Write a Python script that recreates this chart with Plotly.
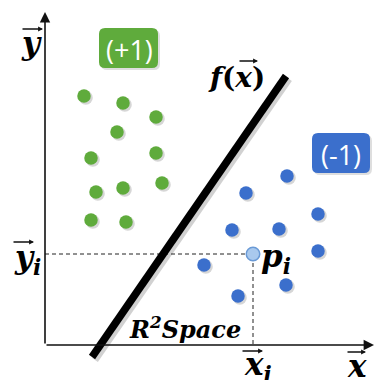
import plotly.graph_objects as go

# ---- data (units: origin at axes crossing) ----
green_x = [3.9, 7.8, 11.1, 7.2, 4.6, 11.1, 5.1, 7.8, 11.7, 4.6, 8.1]
green_y = [24.9, 24.2, 22.8, 21.3, 18.7, 19.2, 15.3, 15.7, 16.2, 12.5, 12.3]
blue_x = [24.2, 20.1, 27.3, 18.7, 23.4, 27.3, 15.9, 24.1, 19.3]
blue_y = [16.9, 15.2, 13.1, 11.5, 11.6, 9.4, 8.0, 6.0, 4.9]
pi_x = [20.8]
pi_y = [9.1]
line_x = [4.7, 24.1]
line_y = [-1.2, 26.9]
x_max = 32.9
y_max = 33.3

GREEN = "#5fab3c"
BLUE = "#3b6fcc"
SERIF = "DejaVu Serif"


def P(px, py):
    """page pixel -> data units (for label placement)"""
    return (px - 45) / 10.0, (345 - py) / 10.0


fig = go.Figure()

# shadows
sh = 0.18
fig.add_trace(go.Scatter(x=[v + sh for v in green_x + blue_x], y=[v - sh for v in green_y + blue_y],
                         mode="markers", marker=dict(size=14, color="rgba(0,0,0,0.16)"),
                         hoverinfo="skip", showlegend=False))
fig.add_trace(go.Scatter(x=[v + 0.3 for v in line_x], y=[v - 0.3 for v in line_y], mode="lines",
                         line=dict(color="rgba(0,0,0,0.18)", width=7), hoverinfo="skip", showlegend=False))

# dashed guides
fig.add_trace(go.Scatter(x=[0, pi_x[0], pi_x[0]], y=[pi_y[0], pi_y[0], 0], mode="lines",
                         line=dict(color="#222", width=1, dash="4px,3px"), showlegend=False))

# decision line
fig.add_trace(go.Scatter(x=line_x, y=line_y, mode="lines",
                         line=dict(color="black", width=7.5), showlegend=False))

fig.add_trace(go.Scatter(x=green_x, y=green_y, mode="markers",
                         marker=dict(size=13.5, color=GREEN), showlegend=False))
fig.add_trace(go.Scatter(x=blue_x, y=blue_y, mode="markers",
                         marker=dict(size=13.5, color=BLUE), showlegend=False))
fig.add_trace(go.Scatter(x=pi_x, y=pi_y, mode="markers",
                         marker=dict(size=13.5, color="#a9c9ee", line=dict(color="#6a9ad6", width=1.5)),
                         showlegend=False))


def rrect(x0, y0, x1, y1, r):
    return (f"M{x0+r},{y0} L{x1-r},{y0} Q{x1},{y0} {x1},{y0+r} L{x1},{y1-r} Q{x1},{y1} {x1-r},{y1} "
            f"L{x0+r},{y1} Q{x0},{y1} {x0},{y1-r} L{x0},{y0+r} Q{x0},{y0} {x0+r},{y0} Z")


shapes = [
    dict(type="path", path=rrect(5.6, 27.5, 11.5, 31.5, 0.6), xref="x", yref="y",
         fillcolor="rgba(0,0,0,0.13)", line=dict(width=0)),
    dict(type="path", path=rrect(5.4, 27.7, 11.3, 31.7, 0.6), xref="x", yref="y",
         fillcolor=GREEN, line=dict(width=0)),
    dict(type="path", path=rrect(26.9, 17.0, 32.7, 21.0, 0.6), xref="x", yref="y",
         fillcolor="rgba(0,0,0,0.13)", line=dict(width=0)),
    dict(type="path", path=rrect(26.7, 17.2, 32.5, 21.2, 0.6), xref="x", yref="y",
         fillcolor=BLUE, line=dict(width=0)),
]


def vec_arrow(p0, p1):
    (x0, y0), (x1, y1) = P(*p0), P(*p1)
    return dict(x=x1, y=y1, ax=x0, ay=y0, xref="x", yref="y", axref="x", ayref="y", text="",
                showarrow=True, arrowhead=2, arrowsize=0.7, arrowwidth=1.4, arrowcolor="#111")


def label(px, py, text, size, **kw):
    x, y = P(px, py)
    return dict(x=x, y=y, text=text, showarrow=False,
                font=dict(family=kw.pop("family", SERIF), size=size, color=kw.pop("color", "black")), **kw)


annotations = [
    # axes arrows
    dict(x=0, y=y_max, ax=0, ay=0, xref="x", yref="y", axref="x", ayref="y", text="",
         showarrow=True, arrowhead=2, arrowsize=1.3, arrowwidth=1.6, arrowcolor="#111"),
    dict(x=x_max, y=0, ax=0, ay=0, xref="x", yref="y", axref="x", ayref="y", text="",
         showarrow=True, arrowhead=2, arrowsize=1.3, arrowwidth=1.6, arrowcolor="#111"),
    label(129, 49, "(+1)", 27, family="Open Sans", color="white"),
    label(341, 154, "(-1)", 27, family="Open Sans", color="white"),
    # f(x)
    label(236, 77, "<b><i>f</i>(<i>x</i>)</b>", 28),
    vec_arrow((238, 61), (258, 61)),
    # y
    label(31, 43, "<b><i>y</i></b>", 31),
    vec_arrow((21, 29), (43, 29)),
    # y_i
    label(27, 259, "<b><i>y<sub>i</sub></i></b>", 31),
    vec_arrow((12, 242), (34, 242)),
    # x_i
    label(258, 366, "<b><i>x<sub>i</sub></i></b>", 31),
    vec_arrow((241, 351), (263, 351)),
    # x
    label(357, 366, "<b><i>x</i></b>", 31),
    vec_arrow((346, 352), (366, 352)),
    # p_i
    label(259, 258, "<b><i>p<sub>i</sub></i></b>", 31, xanchor="left"),
    # R^2 Space
    label(185, 328, "<b><i>R<sup>2</sup>Space</i></b>", 24),
]

fig.update_layout(
    width=374, height=380,
    margin=dict(l=0, r=0, t=0, b=0),
    paper_bgcolor="white", plot_bgcolor="white",
    xaxis=dict(range=[-4.5, 32.9], visible=False, fixedrange=True),
    yaxis=dict(range=[-3.5, 34.5], visible=False, fixedrange=True),
    shapes=shapes, annotations=annotations, showlegend=False,
)
fig.write_html("out.html", config={"displayModeBar": False},
               post_script="document.body.style.margin='0';")
